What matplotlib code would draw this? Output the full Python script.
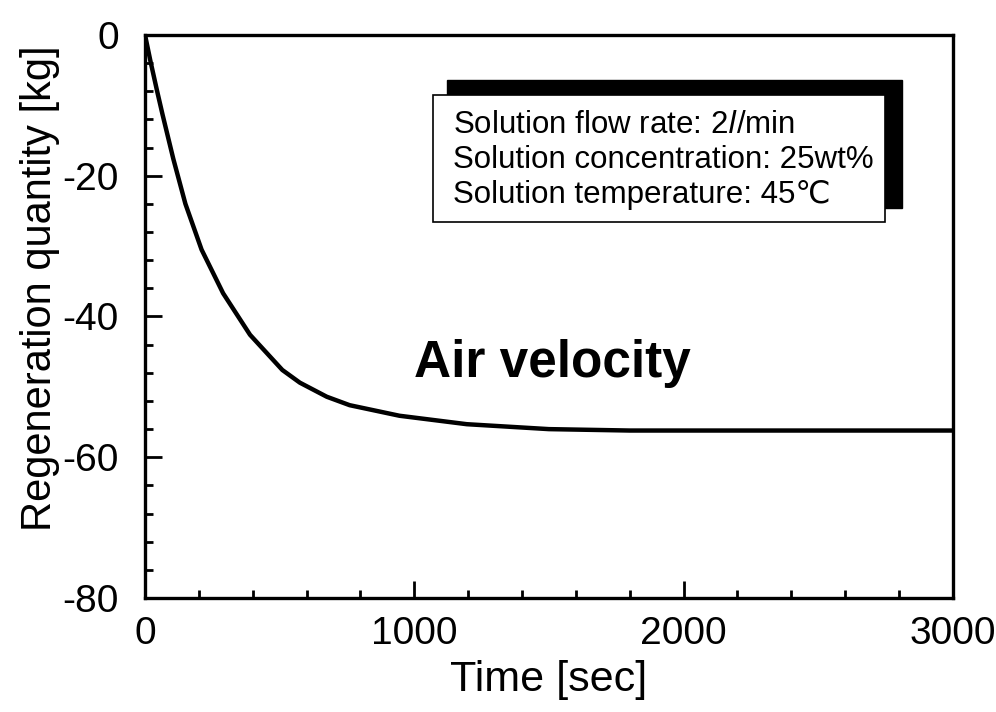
import numpy as np
import matplotlib
matplotlib.use("Agg")
import matplotlib.pyplot as plt
from matplotlib.patches import Rectangle
from matplotlib.ticker import MultipleLocator

plt.rcParams['font.family'] = ['Liberation Sans', 'DejaVu Sans']
plt.rcParams['axes.unicode_minus'] = False

# Datos
tiempo = [0, 20, 45, 65, 105, 150, 210, 290, 390, 510, 575, 675, 760,
          945, 1195, 1500, 1800, 2400, 3000]
regeneracion = [0, -3.7, -8.0, -11.3, -17.6, -24.0, -30.5, -36.7, -42.6,
                -47.6, -49.4, -51.4, -52.6, -54.1, -55.3, -56.0, -56.2,
                -56.2, -56.2]

condiciones = [
    "Solution flow rate: 2$\\it{l}$/min",
    "Solution concentration: 25wt%",
    "Solution temperature: 45\u2103",
]

fig = plt.figure(figsize=(9.96, 7.12), dpi=100)
ax = fig.add_axes([0.1456, 0.160, 0.811, 0.791])

ax.plot(tiempo, regeneracion, color='black', linewidth=3.2)

ax.set_xlim(0, 3000)
ax.set_ylim(-80, 0)
ax.xaxis.set_major_locator(MultipleLocator(1000))
ax.xaxis.set_minor_locator(MultipleLocator(200))
ax.yaxis.set_major_locator(MultipleLocator(20))
ax.yaxis.set_minor_locator(MultipleLocator(4))
ax.tick_params(which='both', direction='in', width=2, labelsize=28)
ax.tick_params(which='major', length=12)
ax.tick_params(which='minor', length=6)
ax.tick_params(axis='x', pad=13)
ax.tick_params(axis='y', pad=19)
for s in ax.spines.values():
    s.set_linewidth(2.4)

ax.set_xlabel("Time [sec]", fontsize=31, labelpad=6)
ax.set_ylabel("Regeneration quantity [kg]", fontsize=30)
ax.yaxis.set_label_coords(-0.105, 0.55)

# Cuadro con sombra
ax.add_patch(Rectangle((0.374, 0.693), 0.563, 0.227, transform=ax.transAxes,
                       facecolor='black', edgecolor='black', zorder=3))
ax.add_patch(Rectangle((0.356, 0.668), 0.560, 0.225, transform=ax.transAxes,
                       facecolor='white', edgecolor='black', linewidth=1.2,
                       zorder=4))
for i, txt in enumerate(condiciones):
    ax.text(0.381, 0.840 - i * 0.062, txt, transform=ax.transAxes,
            fontsize=22.5, va='center', ha='left', zorder=5)

ax.text(0.504, 0.417, "Air velocity", transform=ax.transAxes,
        fontsize=37, fontweight='bold', ha='center', va='center')

fig.savefig("out.png", dpi=100)
